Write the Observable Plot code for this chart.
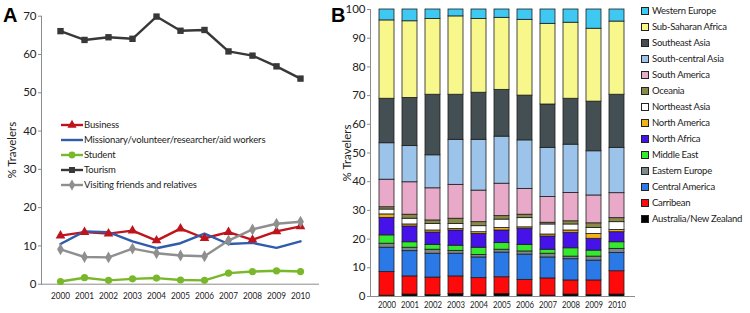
<!DOCTYPE html>
<html><head><meta charset="utf-8">
<script src="https://cdn.jsdelivr.net/npm/d3@7"></script>
<script src="https://cdn.jsdelivr.net/npm/@observablehq/plot@0.6"></script>
<style>
body{margin:0;background:#fff;}
#wrap{position:relative;width:750px;height:313px;overflow:hidden;font-family:Lato,"Liberation Sans",sans-serif;color:#222;}
.panel{position:absolute;top:0;}
.tag{position:absolute;font:bold 20px "Liberation Sans",Arial,sans-serif;color:#000;}
.leg{position:absolute;font-size:9.5px;line-height:12px;white-space:nowrap;display:flex;align-items:center;}
.legA{letter-spacing:-0.15px;}
.legB{letter-spacing:-0.25px;}
.sw{display:inline-block;width:6px;height:6px;border:1px solid #222;margin-right:3px;}
</style></head><body><div id="wrap"></div>
<script>
// ---------- Panel A data ----------
const years = ["2000","2001","2002","2003","2004","2005","2006","2007","2008","2009","2010"];
const purposeNames = ["Business","Missionary/volunteer/researcher/aid workers","Student","Tourism","Visiting friends and relatives"];
const business   = [12.7,13.6,13.2,14.0,11.4,14.5,12.0,13.6,11.6,13.8,15.1];
const missionary = [10.5,13.8,13.6,11.2,9.4,10.7,13.2,10.5,10.8,9.5,11.2];
const student    = [0.7,1.7,1.0,1.4,1.6,1.1,1.0,2.9,3.3,3.5,3.3];
const tourism    = [66.1,63.8,64.5,64.1,69.9,66.2,66.4,60.8,59.7,56.9,53.7];
const vfr        = [9.1,7.1,7.0,9.3,8.1,7.5,7.3,11.4,14.3,15.8,16.3];
const purposeColors  = ["#c0141c","#2f5dab","#78b82a","#383838","#8f8f8f"];
const purposeSymbols = ["triangle","circle","circle","square","diamond"];
const purposeHasMarker = [true,false,true,true,true];
const yTicksA = [0,10,20,30,40,50,60,70];

// ---------- Panel B data ----------
const regions = ["Australia/New Zealand","Carribean","Central America","Eastern Europe","Middle East","North Africa","North America","Northeast Asia","Oceania","South America","South-central Asia","Southeast Asia","Sub-Saharan Africa","Western Europe"];
const regionColors = ["#000000","#ff0a0a","#2b79e6","#7d8a8c","#35ea2e","#4512ea","#f2b21c","#ffffff","#8a8a48","#e8aac8","#9cc3ea","#434f53","#f7f78c","#3ec8f2"];
const ausNz    = [0.3,0.7,0.5,0.9,0.6,0.9,0.6,0.3,0.7,0.5,0.7];
const carib    = [8.2,6.3,6.1,6.1,5.8,5.8,5.2,6.0,4.9,5.1,8.1];
const centAm   = [8.5,8.8,8.3,7.9,7.2,8.6,8.8,7.3,7.4,6.9,6.4];
const eastEur  = [1.4,1.2,1.4,1.0,0.9,1.0,1.1,1.3,0.9,1.4,1.4];
const midEast  = [2.9,1.9,1.7,1.8,2.5,2.3,2.3,1.4,2.9,2.1,2.3];
const nAfrica  = [6.1,5.5,4.3,5.3,4.8,4.4,5.6,4.6,5.4,4.1,3.5];
const nAmerica = [1.2,0.7,0.7,0.5,0.6,0.9,0.5,0.7,0.8,1.7,0.8];
const neAsia   = [1.7,2.0,2.3,1.8,2.1,2.9,3.2,3.5,2.1,2.1,2.7];
const oceania  = [0.8,1.4,1.2,1.8,1.4,1.2,1.2,0.6,1.1,1.6,1.4];
const sAmerica = [9.6,11.3,11.2,11.8,11.0,11.3,9.0,9.0,9.9,9.7,8.7];
const scAsia   = [12.7,12.6,11.5,15.7,17.7,16.4,16.9,17.1,16.8,15.4,15.8];
const seAsia   = [15.5,16.8,21.1,15.7,16.4,16.3,15.6,15.1,16.0,17.3,18.5];
const ssAfrica = [27.3,26.7,26.4,27.3,25.7,25.1,26.4,28.1,26.5,25.4,25.5];
const wEurope  = [3.8,4.1,3.3,2.4,3.3,2.9,3.6,5.0,4.6,6.7,4.2];
const yTicksB = [0,10,20,30,40,50,60,70,80,90,100];

const wrap = document.getElementById("wrap");
const fontStyle = {fontFamily: "Lato, 'Liberation Sans', sans-serif", fontSize: "10px", color: "#222", background: "transparent", overflow: "visible"};

// narrow the year labels to match the condensed look of the original
function condenseX(svg, len) {
  svg.querySelectorAll('g[aria-label="x-axis tick label"] text').forEach(t => {
    t.setAttribute("textLength", len);
    t.setAttribute("lengthAdjust", "spacingAndGlyphs");
  });
}

// ---------- Panel A ----------
const seriesA = [business, missionary, student, tourism, vfr];
const dataA = purposeNames.flatMap((name, k) => years.map((yr, i) => ({year: yr, value: seriesA[k][i], series: name, marker: purposeHasMarker[k]})));
const plotA = Plot.plot({
  width: 330, height: 313,
  marginLeft: 41, marginRight: 12, marginTop: 15.7, marginBottom: 29.3,
  style: fontStyle,
  x: {type: "point", domain: years, padding: 0.55, label: null},
  y: {domain: [0, 70], label: null},
  color: {domain: purposeNames, range: purposeColors},
  symbol: {domain: purposeNames, range: purposeSymbols},
  marks: [
    Plot.frame({anchor: "left", stroke: "#8c8c8c"}),
    Plot.frame({anchor: "bottom", stroke: "#8c8c8c"}),
    Plot.axisY(yTicksA, {tickSize: 3, tickPadding: 2, stroke: "#8c8c8c", label: "% Travelers", labelAnchor: "center", labelArrow: "none", labelOffset: 34, fontSize: 11.5}),
    Plot.axisX({tickSize: 0, tickPadding: 8}),
    Plot.line(dataA, {x: "year", y: "value", z: "series", stroke: "series", strokeWidth: 2.4}),
    Plot.dot(dataA.filter(d => d.marker), {x: "year", y: "value", fill: "series", symbol: "series", r: 3.6, stroke: "none"})
  ]
});
condenseX(plotA, 19);
plotA.classList.add("panel");
plotA.style.left = "0px";
wrap.appendChild(plotA);

// legend A
purposeNames.forEach((name, k) => {
  const div = document.createElement("div");
  div.className = "leg legA";
  div.style.left = "61px";
  div.style.top = (119 + k * 15) + "px";
  const svg = d3.create("svg").attr("width", 22).attr("height", 12).style("margin-right", "1px");
  svg.append("line").attr("x1", 0).attr("x2", 22).attr("y1", 6).attr("y2", 6).attr("stroke", purposeColors[k]).attr("stroke-width", 2.4);
  if (purposeHasMarker[k]) {
    const sym = {triangle: d3.symbolTriangle, circle: d3.symbolCircle, square: d3.symbolSquare, diamond: d3.symbolDiamond}[purposeSymbols[k]];
    svg.append("path").attr("d", d3.symbol(sym, 36)()).attr("transform", "translate(11,6)").attr("fill", purposeColors[k]);
  }
  div.appendChild(svg.node());
  const sp = document.createElement("span");
  sp.textContent = name;
  div.appendChild(sp);
  wrap.appendChild(div);
});

// ---------- Panel B ----------
const seriesB = [ausNz, carib, centAm, eastEur, midEast, nAfrica, nAmerica, neAsia, oceania, sAmerica, scAsia, seAsia, ssAfrica, wEurope];
const dataB = years.flatMap((yr, i) => regions.map((r, k) => ({year: yr, region: r, value: seriesB[k][i]})));
const plotB = Plot.plot({
  width: 310, height: 313,
  marginLeft: 40, marginRight: 6, marginTop: 9, marginBottom: 17,
  style: fontStyle,
  x: {type: "band", domain: years, paddingInner: 0.33, paddingOuter: 0.25, label: null},
  y: {domain: [0, 100], label: null},
  color: {domain: regions, range: regionColors},
  marks: [
    Plot.barY(dataB, {x: "year", y: "value", fill: "region", order: regions, stroke: "#1e1e1e", strokeWidth: 0.8}),
    Plot.frame({anchor: "left", stroke: "#8c8c8c"}),
    Plot.frame({anchor: "bottom", stroke: "#8c8c8c"}),
    Plot.axisY(yTicksB, {tickSize: 3, tickPadding: 2, stroke: "#8c8c8c", label: "% Travelers", labelAnchor: "center", labelArrow: "none", labelOffset: 28, fontSize: 11.5}),
    Plot.axisX({tickSize: 0, tickPadding: 4})
  ]
});
condenseX(plotB, 18);
plotB.classList.add("panel");
plotB.style.left = "330px";
wrap.appendChild(plotB);

// legend B (top = Western Europe)
regions.slice().reverse().forEach((name, j) => {
  const k = regions.length - 1 - j;
  const div = document.createElement("div");
  div.className = "leg legB";
  div.style.left = "641px";
  div.style.top = (5 + j * 16) + "px";
  const sw = document.createElement("span");
  sw.className = "sw";
  sw.style.background = regionColors[k];
  div.appendChild(sw);
  const sp = document.createElement("span");
  sp.textContent = name;
  div.appendChild(sp);
  wrap.appendChild(div);
});

// panel tags
[["A", 3], ["B", 331]].forEach(([t, x]) => {
  const d = document.createElement("div");
  d.className = "tag";
  d.textContent = t;
  d.style.left = x + "px";
  d.style.top = "4px";
  wrap.appendChild(d);
});
</script></body></html>
